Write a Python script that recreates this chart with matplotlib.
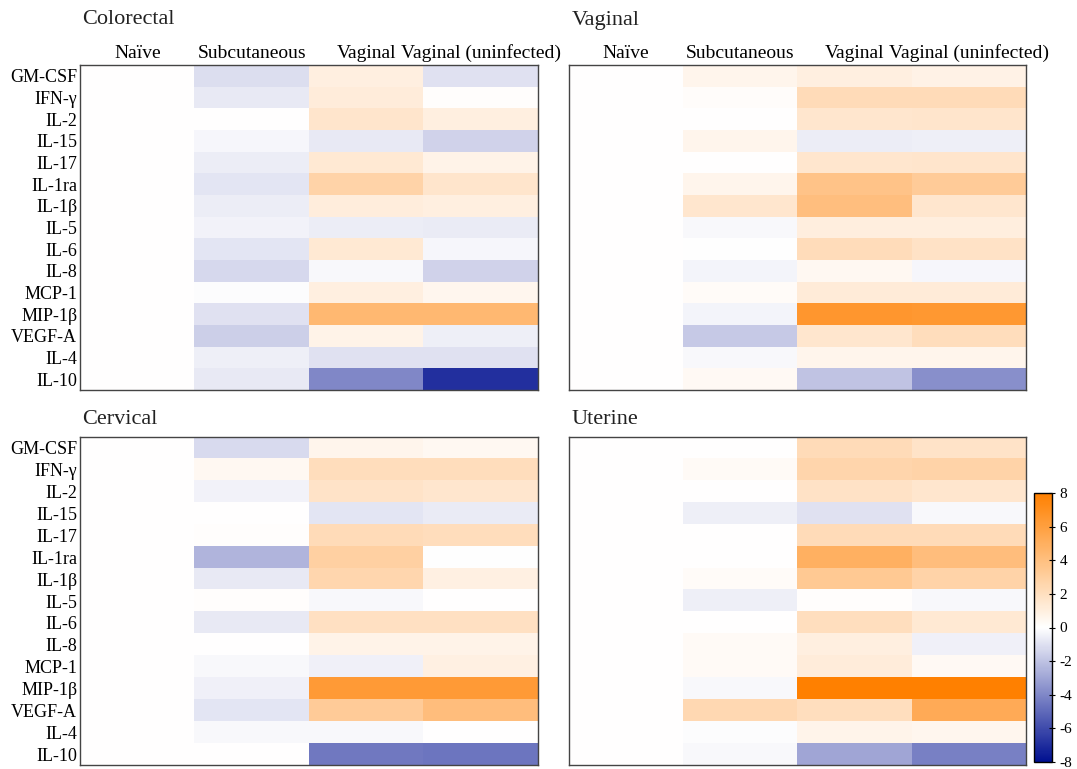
import numpy as np
import matplotlib
matplotlib.use('Agg')
import matplotlib.pyplot as plt
from matplotlib.colors import LinearSegmentedColormap

plt.rcParams['font.family'] = ['Liberation Serif', 'DejaVu Serif']
plt.rcParams['axes.unicode_minus'] = False

# cytokines (rows) and groups (columns)
cytokines = ['GM-CSF', 'IFN-γ', 'IL-2', 'IL-15', 'IL-17', 'IL-1ra', 'IL-1β', 'IL-5',
             'IL-6', 'IL-8', 'MCP-1', 'MIP-1β', 'VEGF-A', 'IL-4', 'IL-10']
groups = ['Naïve', 'Subcutaneous', 'Vaginal', 'Vaginal (uninfected)']

# values per tissue, one list per group
colorectal_naive = [0] * 15
colorectal_subq = [-1.1, -0.7, 0.0, -0.3, -0.6, -0.85, -0.6, -0.4, -0.85, -1.3, -0.1, -1.0, -1.6, -0.55, -0.7]
colorectal_vag = [0.95, 1.15, 1.6, -0.7, 1.35, 2.7, 1.1, -0.6, 1.35, -0.2, 0.95, 4.4, 0.7, -1.0, -4.0]
colorectal_vag_uninf = [-1.0, 0.1, 0.95, -1.5, 0.7, 1.6, 0.95, -0.65, -0.3, -1.5, 0.5, 4.4, -0.55, -1.0, -6.9]

vaginal_naive = [0] * 15
vaginal_subq = [0.6, 0.15, 0.0, 0.6, 0.0, 0.6, 1.5, -0.25, -0.05, -0.35, 0.2, -0.35, -1.8, -0.2, 0.35]
vaginal_vag = [0.95, 2.2, 1.55, -0.6, 1.55, 3.7, 4.0, 1.0, 2.15, 0.4, 1.2, 6.5, 1.55, 0.6, -2.0]
vaginal_vag_uninf = [0.8, 2.2, 1.6, -0.55, 1.6, 3.2, 1.5, 1.0, 1.8, -0.3, 1.2, 6.4, 2.1, 0.6, -3.7]

cervical_naive = [0] * 15
cervical_subq = [-1.25, 0.4, -0.4, 0.0, 0.1, -2.5, -0.7, 0.1, -0.7, 0.0, -0.2, -0.45, -0.85, -0.2, 0.0]
cervical_vag = [0.6, 2.1, 1.7, -0.85, 2.2, 2.9, 2.5, -0.2, 1.9, 0.7, -0.45, 6.3, 3.2, -0.2, -4.5]
cervical_vag_uninf = [0.4, 2.1, 1.5, -0.65, 2.1, -0.05, 0.9, 0.0, 1.9, 0.7, 0.9, 6.3, 4.1, 0.0, -4.6]

uterine_naive = [0] * 15
uterine_subq = [0.0, 0.3, 0.05, -0.55, 0.0, 0.05, 0.2, -0.55, 0.0, 0.3, 0.3, -0.25, 2.4, -0.1, -0.2]
uterine_vag = [2.2, 2.6, 1.8, -1.0, 2.2, 4.9, 3.35, 0.1, 2.0, 0.95, 1.15, 8.0, 2.0, 0.65, -3.0]
uterine_vag_uninf = [1.7, 2.7, 1.5, -0.25, 2.2, 4.1, 2.7, -0.2, 1.35, -0.45, 0.35, 8.0, 5.3, 0.55, -4.2]

panels = [
    ('Colorectal', [colorectal_naive, colorectal_subq, colorectal_vag, colorectal_vag_uninf]),
    ('Vaginal', [vaginal_naive, vaginal_subq, vaginal_vag, vaginal_vag_uninf]),
    ('Cervical', [cervical_naive, cervical_subq, cervical_vag, cervical_vag_uninf]),
    ('Uterine', [uterine_naive, uterine_subq, uterine_vag, uterine_vag_uninf]),
]

cmap = LinearSegmentedColormap.from_list('bo', ['#001090', '#ffffff', '#ff8000'])

fig = plt.figure(figsize=(10.77, 7.69), dpi=100)
W, H = 1077, 769
boxes = [(80, 65, 538, 390), (569, 65, 1026, 390), (80, 437, 538, 765), (569, 437, 1026, 765)]

for i, ((title, cols), (x0, y0, x1, y1)) in enumerate(zip(panels, boxes)):
    ax = fig.add_axes([x0 / W, 1 - y1 / H, (x1 - x0) / W, (y1 - y0) / H])
    data = np.array(cols).T
    im = ax.imshow(data, cmap=cmap, vmin=-8, vmax=8, aspect='auto', interpolation='nearest')
    ax.set_yticks(range(len(cytokines)))
    ax.set_xticks(range(len(groups)))
    if i % 2 == 0:
        ax.set_yticklabels(cytokines, fontsize=13)
    else:
        ax.set_yticklabels([])
    if i < 2:
        ax.set_xticklabels(groups, fontsize=14)
        title_off = 45
    else:
        ax.set_xticklabels([])
        title_off = 17
    ax.xaxis.tick_top()
    ax.tick_params(length=0, pad=2)
    for s in ax.spines.values():
        s.set_color('#444444')
        s.set_linewidth(1)
    ax.text(0.005, 1.0 + title_off / (y1 - y0), title, transform=ax.transAxes,
            fontsize=16, ha='left', va='center', color='#222222')

cax = fig.add_axes([1034 / W, 1 - 762 / H, 18 / W, (762 - 493) / H])
cb = fig.colorbar(im, cax=cax, ticks=range(-8, 9, 2))
cb.ax.tick_params(labelsize=11, direction='inout', length=4)
cb.outline.set_linewidth(1)

fig.savefig('out.png', dpi=100)
